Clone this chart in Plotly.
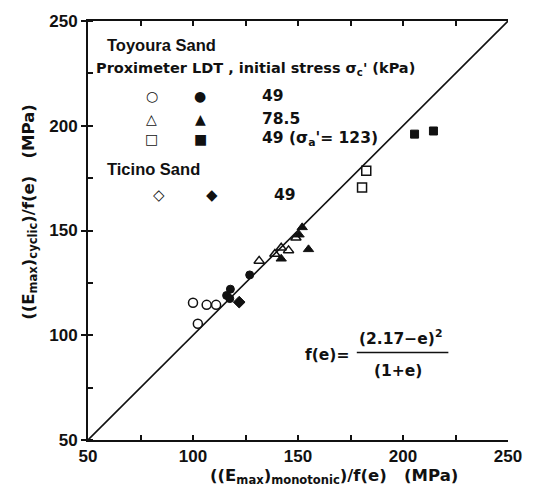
import plotly.graph_objects as go

# ---- data (MPa) ----
open_circle_x = [100.0, 102.3, 106.5, 111.0]
open_circle_y = [115.5, 105.5, 114.5, 114.5]
filled_circle_x = [117.8, 116.0, 117.5, 127.0]
filled_circle_y = [122.0, 119.0, 117.5, 128.8]
open_tri_x = [131.5, 139.0, 142.0, 145.5, 149.0]
open_tri_y = [135.5, 138.8, 141.8, 140.5, 146.5]
filled_tri_x = [142.0, 155.0, 152.0, 150.5]
filled_tri_y = [136.5, 141.0, 151.5, 148.0]
open_sq_x = [182.5, 180.5]
open_sq_y = [178.5, 170.5]
filled_sq_x = [205.5, 214.5]
filled_sq_y = [196.0, 197.5]
filled_dia_x = [122.0]
filled_dia_y = [115.8]
line_x = [50, 250]
line_y = [50, 250]
ticks_major = [50, 100, 150, 200, 250]

FONT = "Liberation Sans, Arial, sans-serif"
WIDE = "DejaVu Sans, sans-serif"
BLACK = "#111111"

fig = go.Figure()
fig.add_trace(go.Scatter(x=line_x, y=line_y, mode="lines",
                         line=dict(color=BLACK, width=1.6), hoverinfo="skip"))

def add(x, y, sym, size, lw=1.5):
    fig.add_trace(go.Scatter(x=x, y=y, mode="markers",
                             marker=dict(symbol=sym, size=size, color=BLACK,
                                         line=dict(color=BLACK, width=lw))))

add(open_circle_x, open_circle_y, "circle-open", 9)
add(filled_circle_x, filled_circle_y, "circle", 8, 1)
add(open_tri_x, open_tri_y, "triangle-up-open", 9)
add(filled_tri_x, filled_tri_y, "triangle-up", 9, 1)
add(open_sq_x, open_sq_y, "square-open", 9)
add(filled_sq_x, filled_sq_y, "square", 8, 1)
add(filled_dia_x, filled_dia_y, "diamond", 9, 1)

axis_common = dict(range=[50, 250], showgrid=False, zeroline=False,
                   showline=True, linecolor=BLACK, linewidth=2,
                   tickfont=dict(family=FONT, size=17, color=BLACK, weight="bold"),
                   tickcolor=BLACK, tickwidth=1.5, ticklen=5,
                   tickvals=ticks_major)

fig.update_xaxes(**axis_common, ticks="inside", mirror="ticks",
                 minor=dict(dtick=25, ticks="inside", ticklen=5, tickcolor=BLACK, tickwidth=1.5))
fig.update_yaxes(**axis_common, ticks="outside", mirror=False,
                 minor=dict(dtick=25, ticks="inside", ticklen=5, tickcolor=BLACK, tickwidth=1.5))
fig.update_layout(yaxis2=dict(range=[50, 250], overlaying="y", side="right",
                              showgrid=False, zeroline=False, showline=True,
                              linecolor=BLACK, linewidth=2, ticks="inside",
                              tickvals=[75, 100, 125, 150, 175, 200, 225],
                              showticklabels=False, ticklen=5, tickcolor=BLACK,
                              tickwidth=1.5))

ann = []
def txt(x, y, s, size=15, xanchor="left", family=WIDE, weight="bold", **kw):
    ann.append(dict(x=x, y=y, xref="paper", yref="paper", text=s, showarrow=False,
                    xanchor=xanchor, yanchor="middle",
                    font=dict(family=family, size=size, color=BLACK, weight=weight), **kw))

txt(0.040, 0.943, "Toyoura Sand", 16.5, family=FONT)
txt(0.014, 0.886, "Proximeter LDT , initial stress σ<sub>c</sub>' (kPa)", 14.5)
SYM = "DejaVu Sans"
rows = [(0.820, "○", "●", "49"), (0.766, "△", "▲", "78.5"), (0.718, "□", "■", "49 (σ<sub>a</sub>'= 123)")]
for yy, a, b, lab in rows:
    txt(0.152, yy, a, 14, "center", SYM, "normal")
    txt(0.267, yy, b, 14, "center", SYM, "normal")
    txt(0.410, yy, lab, 15.5)
txt(0.040, 0.647, "Ticino Sand", 16.5, family=FONT)
txt(0.169, 0.585, "◇", 15, "center", SYM, "normal")
txt(0.295, 0.585, "◆", 15, "center", SYM, "normal")
txt(0.438, 0.585, "49", 15.5)

# formula
txt(0.570, 0.203, "f(e)=", 15.5, "center")
txt(0.745, 0.245, "(2.17−e)<sup>2</sup>", 15.5, "center")
txt(0.738, 0.165, "(1+e)", 15.5, "center")

# axis titles
ann.append(dict(x=0.586, y=-0.086, xref="paper", yref="paper", showarrow=False,
                text="((E<sub>max</sub>)<sub>monotonic</sub>)/f(e)   (MPa)",
                xanchor="center", yanchor="middle",
                font=dict(family=WIDE, size=16.5, color=BLACK, weight="bold")))
ann.append(dict(x=-0.140, y=0.545, xref="paper", yref="paper", showarrow=False,
                text="((E<sub>max</sub>)<sub>cyclic</sub>)/f(e)   (MPa)", textangle=-90,
                xanchor="center", yanchor="middle",
                font=dict(family=WIDE, size=16.5, color=BLACK, weight="bold")))

fig.update_layout(
    annotations=ann,
    shapes=[dict(type="line", xref="paper", yref="paper", x0=0.640, x1=0.858,
                 y0=0.209, y1=0.209, line=dict(color=BLACK, width=1.6))],
    width=547, height=489, showlegend=False,
    margin=dict(l=88, r=39, t=18, b=49),
    paper_bgcolor="white", plot_bgcolor="white",
)

fig.write_html("out.html", config={"displayModeBar": False},
               post_script="document.body.style.margin='0';")
